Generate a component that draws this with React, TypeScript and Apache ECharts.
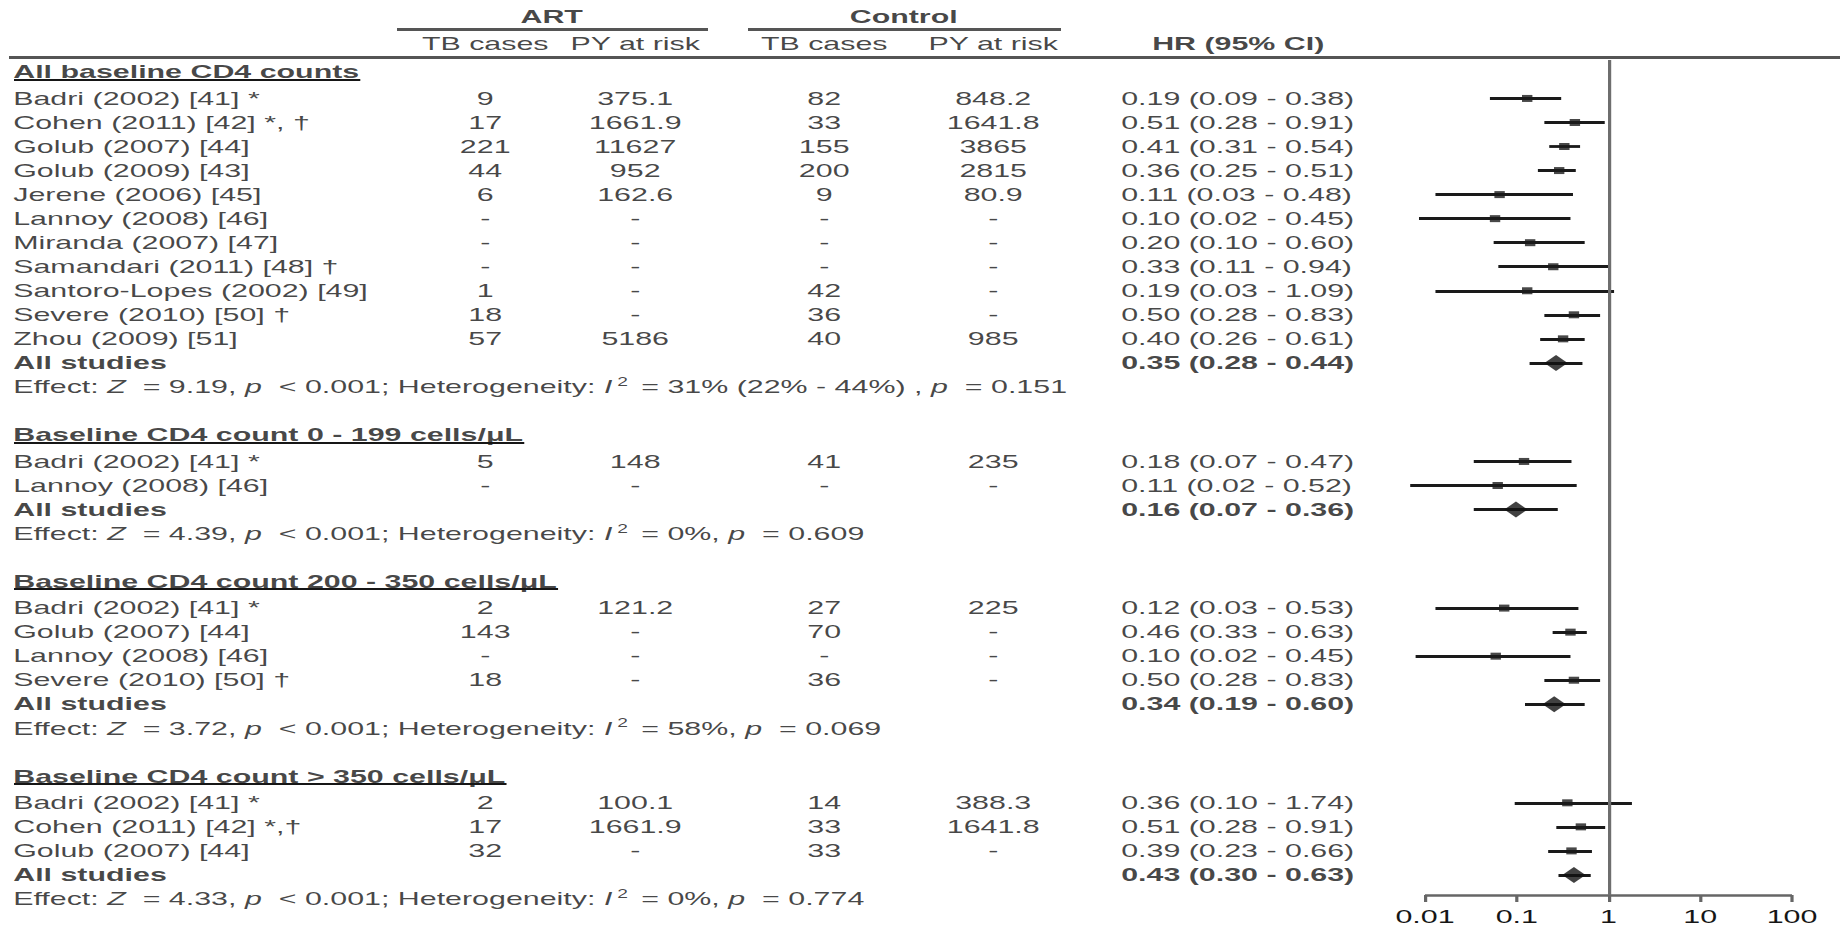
import React, { useEffect, useRef } from "react";
import * as echarts from "echarts";

// ---------------- data ----------------
const sectionTitles = [
  "All baseline CD4 counts",
  "Baseline CD4 count 0 - 199 cells/μL",
  "Baseline CD4 count 200 - 350 cells/μL",
  "Baseline CD4 count > 350 cells/μL",
];
const sectionSizes = [11, 2, 4, 3];

const studyNames = [
  "Badri (2002) [41] *",
  "Cohen (2011) [42] *, †",
  "Golub (2007) [44]",
  "Golub (2009) [43]",
  "Jerene (2006) [45]",
  "Lannoy (2008) [46]",
  "Miranda (2007) [47]",
  "Samandari (2011) [48] †",
  "Santoro-Lopes (2002) [49]",
  "Severe (2010) [50] †",
  "Zhou (2009) [51]",
  "Badri (2002) [41] *",
  "Lannoy (2008) [46]",
  "Badri (2002) [41] *",
  "Golub (2007) [44]",
  "Lannoy (2008) [46]",
  "Severe (2010) [50] †",
  "Badri (2002) [41] *",
  "Cohen (2011) [42] *,†",
  "Golub (2007) [44]",
];
const artCases = ["9", "17", "221", "44", "6", "-", "-", "-", "1", "18", "57", "5", "-", "2", "143", "-", "18", "2", "17", "32"];
const artPY = ["375.1", "1661.9", "11627", "952", "162.6", "-", "-", "-", "-", "-", "5186", "148", "-", "121.2", "-", "-", "-", "100.1", "1661.9", "-"];
const ctlCases = ["82", "33", "155", "200", "9", "-", "-", "-", "42", "36", "40", "41", "-", "27", "70", "-", "36", "14", "33", "33"];
const ctlPY = ["848.2", "1641.8", "3865", "2815", "80.9", "-", "-", "-", "-", "-", "985", "235", "-", "225", "-", "-", "-", "388.3", "1641.8", "-"];

// HR (95% CI) as printed in the table column
const hr = [0.19, 0.51, 0.41, 0.36, 0.11, 0.10, 0.20, 0.33, 0.19, 0.50, 0.40, 0.18, 0.11, 0.12, 0.46, 0.10, 0.50, 0.36, 0.51, 0.39];
const hrLo = [0.09, 0.28, 0.31, 0.25, 0.03, 0.02, 0.10, 0.11, 0.03, 0.28, 0.26, 0.07, 0.02, 0.03, 0.33, 0.02, 0.28, 0.10, 0.28, 0.23];
const hrHi = [0.38, 0.91, 0.54, 0.51, 0.48, 0.45, 0.60, 0.94, 1.09, 0.83, 0.61, 0.47, 0.52, 0.53, 0.63, 0.45, 0.83, 1.74, 0.91, 0.66];
const pooledHR = [0.35, 0.16, 0.34, 0.43];
const pooledLo = [0.28, 0.07, 0.19, 0.30];
const pooledHi = [0.44, 0.36, 0.60, 0.63];

// positions of the marks
const plotHR = [0.13, 0.43, 0.33, 0.29, 0.065, 0.058, 0.14, 0.25, 0.13, 0.42, 0.32, 0.12, 0.062, 0.073, 0.385, 0.059, 0.42, 0.356, 0.5, 0.395];
const plotLo = [0.051, 0.2, 0.226, 0.17, 0.013, 0.0086, 0.056, 0.063, 0.013, 0.2, 0.18, 0.034, 0.0069, 0.013, 0.246, 0.0079, 0.2, 0.095, 0.27, 0.22];
const plotHi = [0.305, 0.91, 0.49, 0.44, 0.41, 0.385, 0.55, 1.0, 1.15, 0.81, 0.55, 0.395, 0.45, 0.47, 0.58, 0.385, 0.81, 1.8, 0.92, 0.66];
const plotPooled = [0.268, 0.098, 0.256, 0.42];
const plotPooledLo = [0.138, 0.034, 0.123, 0.285];
const plotPooledHi = [0.52, 0.28, 0.55, 0.64];

const effectZ = ["9.19", "4.39", "3.72", "4.33"];
const hetI2 = ["31% (22% - 44%) ", "0%", "58%", "0%"];
const hetP = ["0.151", "0.609", "0.069", "0.774"];

const axisTicks = [0.01, 0.1, 1, 10, 100];

// ---------------- layout ----------------
const FULL_W = 1840;
const FULL_H = 928;
const CHART_W = 1150;
const STRETCH = FULL_W / CHART_W;
const FONT = '"Liberation Sans", Arial, Helvetica, sans-serif';
const FS = 19;
const TEXT = "#161616";
const RULE = "#555555";
const AXIS_GREY = "#666666";

const ROW_PX = 24.04;
const ROW0_PX = 72;
const HEADING_GAP = 1.1;
const SECTION_GAP = 2.0;
const FOREST_SHIFT = 100;
const toU = (px: number) => (px - ROW0_PX) / ROW_PX;

const NAME_X = 14;
const ART_TB_X = 486;
const ART_PY_X = 636;
const CTL_TB_X = 825;
const CTL_PY_X = 994;
const HR_X = 1122;
const HR_HEAD_X = 1239;
const ART_RULE = [397, 708];
const CTL_RULE = [748, 1061];

const GROUP_Y = 17;
const GROUP_RULE_Y = 29;
const SUBHEAD_Y = 43.5;
const MAIN_RULE_Y = 57.5;
const FOREST_TOP = 60;
const AXIS_Y = 895;
const TICK_LEN = 7;
const FOREST_L = 1425;
const FOREST_R = 1792;

const fmt = (v: number) => v.toFixed(2);

const yMin1 = toU(FOREST_TOP) + FOREST_SHIFT;
const yMax1 = toU(AXIS_Y) + FOREST_SHIFT;

// horizontal position (page px) of a value on the forest panel's log axis frame
const logPos = (v: number) => {
  const a = Math.log10(axisTicks[0]);
  const b = Math.log10(axisTicks[axisTicks.length - 1]);
  return FOREST_L + ((Math.log10(v) - a) / (b - a)) * (FOREST_R - FOREST_L);
};

function buildOption() {
  const headingU: number[] = [];
  const studyU: number[] = [];
  const pooledU: number[] = [];
  const effectU: number[] = [];
  let u = 0;
  sectionSizes.forEach((n) => {
    headingU.push(u);
    u += HEADING_GAP;
    for (let i = 0; i < n; i++) {
      studyU.push(u);
      u += 1;
    }
    pooledU.push(u);
    u += 1;
    effectU.push(u);
    u += SECTION_GAP;
  });

  const texts: any[] = [];
  const addText = (x: number, y: number, text: string, align: string, bold = false) => {
    texts.push({
      value: [x, y],
      label: { formatter: text, align, fontWeight: bold ? "bold" : "normal" },
    });
  };

  addText((ART_RULE[0] + ART_RULE[1]) / 2, toU(GROUP_Y), "ART", "center", true);
  addText((CTL_RULE[0] + CTL_RULE[1]) / 2, toU(GROUP_Y), "Control", "center", true);
  addText(ART_TB_X, toU(SUBHEAD_Y), "TB cases", "center");
  addText(ART_PY_X, toU(SUBHEAD_Y), "PY at risk", "center");
  addText(CTL_TB_X, toU(SUBHEAD_Y), "TB cases", "center");
  addText(CTL_PY_X, toU(SUBHEAD_Y), "PY at risk", "center");
  addText(HR_HEAD_X, toU(SUBHEAD_Y), "HR (95% CI)", "center", true);

  studyNames.forEach((name, i) => {
    const y = studyU[i];
    addText(NAME_X, y, name, "left");
    addText(ART_TB_X, y, artCases[i], "center");
    addText(ART_PY_X, y, artPY[i], "center");
    addText(CTL_TB_X, y, ctlCases[i], "center");
    addText(CTL_PY_X, y, ctlPY[i], "center");
    addText(HR_X, y, `${fmt(hr[i])} (${fmt(hrLo[i])} - ${fmt(hrHi[i])})`, "left");
  });

  const canvas = document.createElement("canvas");
  const ctx = canvas.getContext("2d")!;
  ctx.font = `bold ${FS}px ${FONT}`;

  const axisU = toU(AXIS_Y);
  const tickU = toU(AXIS_Y + TICK_LEN);
  const rules: any[] = [
    { coords: [[9, toU(MAIN_RULE_Y)], [FULL_W, toU(MAIN_RULE_Y)]], lineStyle: { width: 3, color: RULE } },
    { coords: [[ART_RULE[0], toU(GROUP_RULE_Y)], [ART_RULE[1], toU(GROUP_RULE_Y)]], lineStyle: { width: 3, color: RULE } },
    { coords: [[CTL_RULE[0], toU(GROUP_RULE_Y)], [CTL_RULE[1], toU(GROUP_RULE_Y)]], lineStyle: { width: 3, color: RULE } },
    { coords: [[FOREST_L, axisU], [FOREST_R, axisU]], lineStyle: { width: 2.5, color: AXIS_GREY } },
    ...axisTicks.map((t) => ({
      coords: [[logPos(t), axisU], [logPos(t), tickU]],
      lineStyle: { width: 2, color: AXIS_GREY },
    })),
  ];

  sectionTitles.forEach((title, s) => {
    addText(NAME_X, headingU[s], title, "left", true);
    const w = ctx.measureText(title).width * STRETCH;
    const uy = headingU[s] + 7.5 / ROW_PX;
    rules.push({ coords: [[NAME_X, uy], [NAME_X + w, uy]], lineStyle: { width: 1.8, color: TEXT } });
    addText(NAME_X, pooledU[s], "All studies", "left", true);
    addText(HR_X, pooledU[s], `${fmt(pooledHR[s])} (${fmt(pooledLo[s])} - ${fmt(pooledHi[s])})`, "left", true);
    addText(
      NAME_X,
      effectU[s],
      `Effect: {i|Z}  = ${effectZ[s]}, {i|p}  < 0.001; Heterogeneity: {i|I}{sup|2} = ${hetI2[s]}, {i|p}  = ${hetP[s]}`,
      "left"
    );
  });

  const ciData: any[] = [];
  studyNames.forEach((_, i) =>
    ciData.push({ coords: [[plotLo[i], studyU[i] + FOREST_SHIFT], [plotHi[i], studyU[i] + FOREST_SHIFT]] })
  );
  plotPooled.forEach((_, s) =>
    ciData.push({ coords: [[plotPooledLo[s], pooledU[s] + FOREST_SHIFT], [plotPooledHi[s], pooledU[s] + FOREST_SHIFT]] })
  );

  const yMin0 = toU(0);
  const yMax0 = toU(FULL_H);

  return {
    animation: false,
    grid: [
      { left: 0, right: 0, top: 0, bottom: 0, containLabel: false },
      {
        left: FOREST_L / STRETCH,
        width: (FOREST_R - FOREST_L) / STRETCH,
        top: FOREST_TOP,
        bottom: FULL_H - AXIS_Y,
        containLabel: false,
      },
    ],
    xAxis: [
      { type: "value", gridIndex: 0, min: 0, max: FULL_W, show: false },
      {
        type: "log",
        gridIndex: 1,
        logBase: 10,
        min: axisTicks[0],
        max: axisTicks[axisTicks.length - 1],
        axisLine: { show: false },
        axisTick: { show: false },
        splitLine: { show: false },
        minorTick: { show: false },
        axisLabel: {
          show: true,
          margin: 12,
          fontSize: FS,
          fontFamily: FONT,
          color: TEXT,
          formatter: (v: number) => `${parseFloat(v.toPrecision(2))}`,
        },
      },
    ],
    yAxis: [
      { type: "value", gridIndex: 0, min: yMin0, max: yMax0, inverse: true, show: false },
      { type: "value", gridIndex: 1, min: yMin1, max: yMax1, inverse: true, show: false },
    ],
    series: [
      {
        type: "lines",
        coordinateSystem: "cartesian2d",
        xAxisIndex: 0,
        yAxisIndex: 0,
        silent: true,
        polyline: false,
        clip: false,
        lineStyle: { opacity: 1, curveness: 0 },
        data: rules,
        z: 1,
      },
      {
        type: "scatter",
        xAxisIndex: 0,
        yAxisIndex: 0,
        silent: true,
        symbol: "rect",
        symbolSize: 1,
        itemStyle: { color: "rgba(0,0,0,0)" },
        label: {
          show: true,
          position: [0, 0],
          verticalAlign: "middle",
          fontFamily: FONT,
          fontSize: FS,
          color: TEXT,
          rich: {
            i: { fontStyle: "italic", fontFamily: FONT, fontSize: FS, color: TEXT },
            sup: { fontFamily: FONT, fontSize: 12, color: TEXT, padding: [0, 3, 9, 3] },
          },
        },
        labelLayout: { hideOverlap: false },
        data: texts,
        z: 5,
      },
      {
        type: "lines",
        coordinateSystem: "cartesian2d",
        xAxisIndex: 1,
        yAxisIndex: 1,
        silent: true,
        polyline: false,
        clip: false,
        lineStyle: { color: "#1a1a1a", width: 2.8, opacity: 1, curveness: 0 },
        data: ciData,
        z: 3,
      },
      {
        type: "scatter",
        xAxisIndex: 1,
        yAxisIndex: 1,
        silent: true,
        clip: false,
        symbol: "rect",
        symbolSize: [6.5, 7],
        itemStyle: { color: "#1a1a1a" },
        data: plotHR.map((v, i) => [v, studyU[i] + FOREST_SHIFT]),
        z: 4,
        markLine: {
          silent: true,
          symbol: ["none", "none"],
          label: { show: false },
          lineStyle: { color: "#6e6e6e", width: 2, type: "solid" },
          data: [{ xAxis: 1 }],
        },
      },
      {
        type: "scatter",
        xAxisIndex: 1,
        yAxisIndex: 1,
        silent: true,
        clip: false,
        symbol: "diamond",
        symbolSize: [14.5, 16],
        itemStyle: { color: "#111111" },
        data: plotPooled.map((v, s) => [v, pooledU[s] + FOREST_SHIFT]),
        z: 4,
      },
    ],
  };
}

export default function App() {
  const ref = useRef<HTMLDivElement>(null);
  useEffect(() => {
    document.body.style.margin = "0";
    document.body.style.overflow = "hidden";
    const el = ref.current;
    if (!el) return;
    const chart = echarts.init(el, null, { renderer: "svg" });
    chart.setOption(buildOption() as any);
    return () => chart.dispose();
  }, []);
  return (
    <div
      ref={ref}
      style={{
        width: CHART_W,
        height: FULL_H,
        transform: `scaleX(${STRETCH})`,
        transformOrigin: "0 0",
        background: "#ffffff",
      }}
    />
  );
}
